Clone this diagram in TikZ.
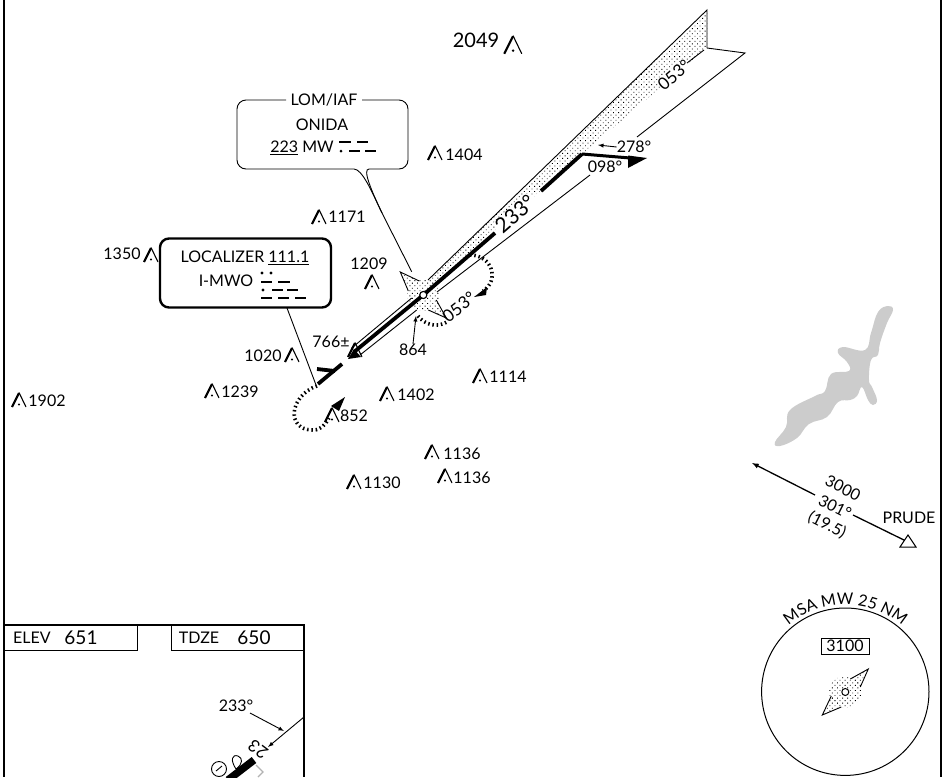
\documentclass[tikz,border=0pt]{standalone}
\usepackage{fontspec}
\setmainfont{Lato}
\usetikzlibrary{patterns.meta,decorations.text}
\newcommand{\labelfont}{\fontsize{16}{18}\selectfont}
\tikzset{
  thinline/.style={line width=0.9pt},
  course/.style={line width=3.8pt},
  holdline/.style={line width=3.6pt,dash pattern=on 1.5pt off 2.8pt},
  morse/.style={line width=2.4pt},
  stipple/.style={pattern={Dots[distance=3.6pt,radius=0.62pt,angle=45]},pattern color=black},
  peak/.pic={
    \draw[line width=2.2pt] (-7,7) -- (0,-7);
    \draw[line width=1.1pt] (0,-7.5) -- (7,7);
    \fill (0,4.5) circle (1.1);
  },
  fixmark/.pic={
    \path[stipple] (0,0) circle (16);
    \draw[thinline,stipple] (5,-13) -- (23,-23) -- (15,-5);
    \draw[thinline,stipple] (-14,4) -- (-23,23) -- (-4,15);
    \draw[line width=1pt,fill=white] (0,0) circle (3.5);
  }
}

\begin{document}
\begin{tikzpicture}
  [x=1pt,y=-1pt,every node/.style={inner sep=0pt,font=\labelfont}]
  \useasboundingbox (0,0) rectangle (951,777);

  % frame
  \draw[line width=2.6pt] (4,0) -- (4,777);
  \draw[line width=2.6pt] (941,0) -- (941,777);

  % feather
  \path[stipple] (707,10) -- (707,48) -- (582,154) -- (430,288) -- (428,280) -- cycle;
  \draw[thinline] (707,48) -- (707,10) -- (428,280);
  \draw[thinline] (707,48) -- (745,53) -- (637,137);
  \draw[thinline] (590,175) -- (437,292);
  \draw[thinline] (411.7,298) -- (351.7,348);
  \draw[thinline] (416.7,310) -- (360,355);

  \pic[rotate=-90] at (423.3,295) {fixmark};

  % fix labels and course
  \draw[course] (582,154) -- (541,191);
  \draw[course] (495,233) -- (423.3,295) -- (354,352);
  \fill (348,359) -- (361,357) -- (354,349) -- cycle;
  \draw[course] (318,384) -- (342,364);
  \draw[course] (317,369) -- (335,371);
  \draw[line width=3pt] (582,154) -- (630,158);
  \fill (647,158) -- (628,155.5) -- (628,168) -- cycle;
  \draw[line width=1pt,fill=white] (423.3,295) circle (3.5);

  \node[rotate=41,font=\fontsize{21}{24}\selectfont,fill=white] (crs233) at (515,214) {233°};
  \node[rotate=41,font=\fontsize{17}{20}\selectfont,fill=white] (crs053) at (674,75) {053°};
  \node (crs098) at (605,167) {098°};
  \node (crs278) at (634,147) {278°};
  \coordinate (tip278) at (598,145);
  \coordinate (lead053) at (704,50);
  \draw[thinline,-latex] (crs278.west) -- (tip278);
  \draw[thinline] (687,63) -- (lead053);

  % holds
  \draw[holdline] (470,255) .. controls (492,255) and (500,280) .. (483,291);
  \fill (474,297) -- (487,287) -- (486,295) -- cycle;
  \draw[holdline] (418,316) .. controls (425,325) and (437,328) .. (447,322);
  \node[rotate=38,font=\fontsize{17}{20}\selectfont] (hold053) at (459,307) {053°};
  \draw[holdline] (317,386) .. controls (290,395) and (285,430) .. (313,430) .. controls (321,430) and (325,425) .. (329,418);
  \fill (345,397) -- (331,406) -- (339,411) -- cycle;

  % terrain
  \pic[scale=1.25] at (513,45) {peak};
  \node[font=\fontsize{20}{22}\selectfont] (e2049) at (476,40) {2049};
  \foreach \px/\py/\tx/\ty/\lab in {435/153/464/155/1404,319/217/347/217/1171,151/255/122/254/1350,
      372/282/369/264/1209,292/355/263/356/1020,480/376/508/377/1114,212/391/240/392/1239,
      387/394/416/395/1402,332/415/354/416/852,19/400/47/401/1902,432/452/462/454/1136,
      445/476/472/478/1136,354/482/382/483/1130}{
    \pic at (\px,\py) {peak};
    \node at (\tx,\ty) {\lab};
  }
  \pic at (355,350) {peak};
  \node (e766) at (331,342) {766±};
  \node (e864) at (413,350) {864};
  \draw[thinline,-latex] (e864.north) -- (416,316);

  % LOM callout
  \draw[thinline,rounded corners=9pt] (286,100) -- (237,100) -- (237,169) -- (345,169)
    .. controls (362,169) and (372,192) .. (382,213) -- (411.7,271.7);
  \draw[thinline,rounded corners=9pt] (382,213) .. controls (372,192) and (362,169) .. (378,169)
    -- (408,169) -- (408,100) -- (362,100);
  \node (lomtitle) at (324,100) {LOM/IAF};
  \node (lomname) at (322,125) {ONIDA};
  \node (lomfreq) at (302,148) {\underline{223} MW};
  \draw[morse] (339,142) -- (351,142) (357,142) -- (368,142);
  \draw[morse] (349,151) -- (360,151) (365,151) -- (376,151);
  \fill (341,151) circle (1.5);

  % localizer box
  \node[draw,line width=2.4pt,rounded corners=9pt,minimum width=171pt,minimum height=69pt] (locbox) at (245.5,273) {};
  \node (locfreq) at (245,258) {LOCALIZER \underline{111.1}};
  \node (locid) at (226,281) {I-MWO};
  \fill (262,273) circle (1.6) (271,273) circle (1.6) (263,290) circle (1.6);
  \draw[morse] (261,282) -- (272,282) (278,282) -- (290,282);
  \draw[morse] (272,290) -- (283,290) (287,290) -- (298,290);
  \draw[morse] (261,298) -- (272,298) (278,298) -- (289,298) (295,298) -- (306,298);
  \coordinate (locfoot) at (287,308);
  \coordinate (locend) at (316,385);
  \draw[thinline] (locfoot) -- (locend);

  % lake
  \fill[black!20] plot[smooth cycle,tension=0.7] coordinates {(888,306) (893,310) (887,323) (880,343)
    (878,355) (871,360) (869,380) (872,387) (877,400) (873,405) (868,400) (862,387) (857,396)
    (850,400) (838,402) (827,417) (809,424) (797,438) (780,446) (775,442) (786,427) (790,410)
    (815,396) (825,391) (831,374) (849,371) (847,362) (838,353) (843,347) (865,350) (871,333) (878,312)};

  % feeder route
  \coordinate (prude) at (908,542);
  \coordinate (feedend) at (752,463);
  \coordinate (feedmid) at (815,495);
  \coordinate (feedout) at (853,515);
  \draw[line width=1.3pt] (prude) -- (feedout);
  \draw[line width=1.3pt,-latex] (feedmid) -- (feedend);
  \draw[line width=1pt,fill=white] (908,535) -- (900,547) -- (916,547) -- cycle;
  \node (prudename) at (909,518) {PRUDE};
  \node[rotate=-27] (feedalt) at (843,488) {3000};
  \node[rotate=-27] (feedcrs) at (835,507) {301°};
  \node[rotate=-27] (feeddist) at (827,525) {(19.5)};

  % minimum safe altitude
  \draw[line width=1pt] (845.3,691.7) circle (83.7);
  \path[decorate,decoration={text along path,text align=center,text={|\fontsize{16}{18}\selectfont|MSA MW 25 NM}}]
    (783.8,630.2) .. controls (817.8,596.2) and (872.8,596.2) .. (906.8,630.2);
  \node[draw,thinline,minimum width=48pt,minimum height=16pt] (msabox) at (845,646) {3100};
  \pic at (845.3,692) {fixmark};

  % airport inset
  \draw[line width=2.2pt] (4,625) -- (304,625) -- (304,777);
  \draw[thinline] (137,625) -- (137,650) -- (4,650);
  \draw[thinline] (171,625) -- (171,650) -- (304,650);
  \node (elevword) at (32,638) {ELEV};
  \node[font=\fontsize{19}{22}\selectfont] (elevnum) at (81,638) {651};
  \node (tdzeword) at (199,638) {TDZE};
  \node[font=\fontsize{19}{22}\selectfont] (tdzenum) at (254,638) {650};
  \node (rwycrs) at (236,706) {233°};
  \coordinate (rwyedge) at (304,717);
  \coordinate (rwytip) at (268,747);
  \coordinate (rwyhit) at (284,731);
  \draw[thinline,-latex] (rwyedge) -- (rwytip);
  \draw[thinline,-latex] (250,713) -- (rwyhit);
  \node[rotate=143,font=\fontsize{17}{20}\selectfont] (rwynum) at (258,749) {23};
  \draw[line width=7.5pt] (254,760) -- (228,780);
  \draw[black!30,line width=1.2pt] (256,765) -- (263,772) -- (258,777);
  \draw[thinline] (236,769) .. controls (230,760) and (232,754) .. (238,756) .. controls (243,758) and (243,764) .. (236,769);
  \draw[thinline] (219,769) circle (7.5);
  \draw[thinline] (216,771) -- (222,766);
\end{tikzpicture}
\end{document}
